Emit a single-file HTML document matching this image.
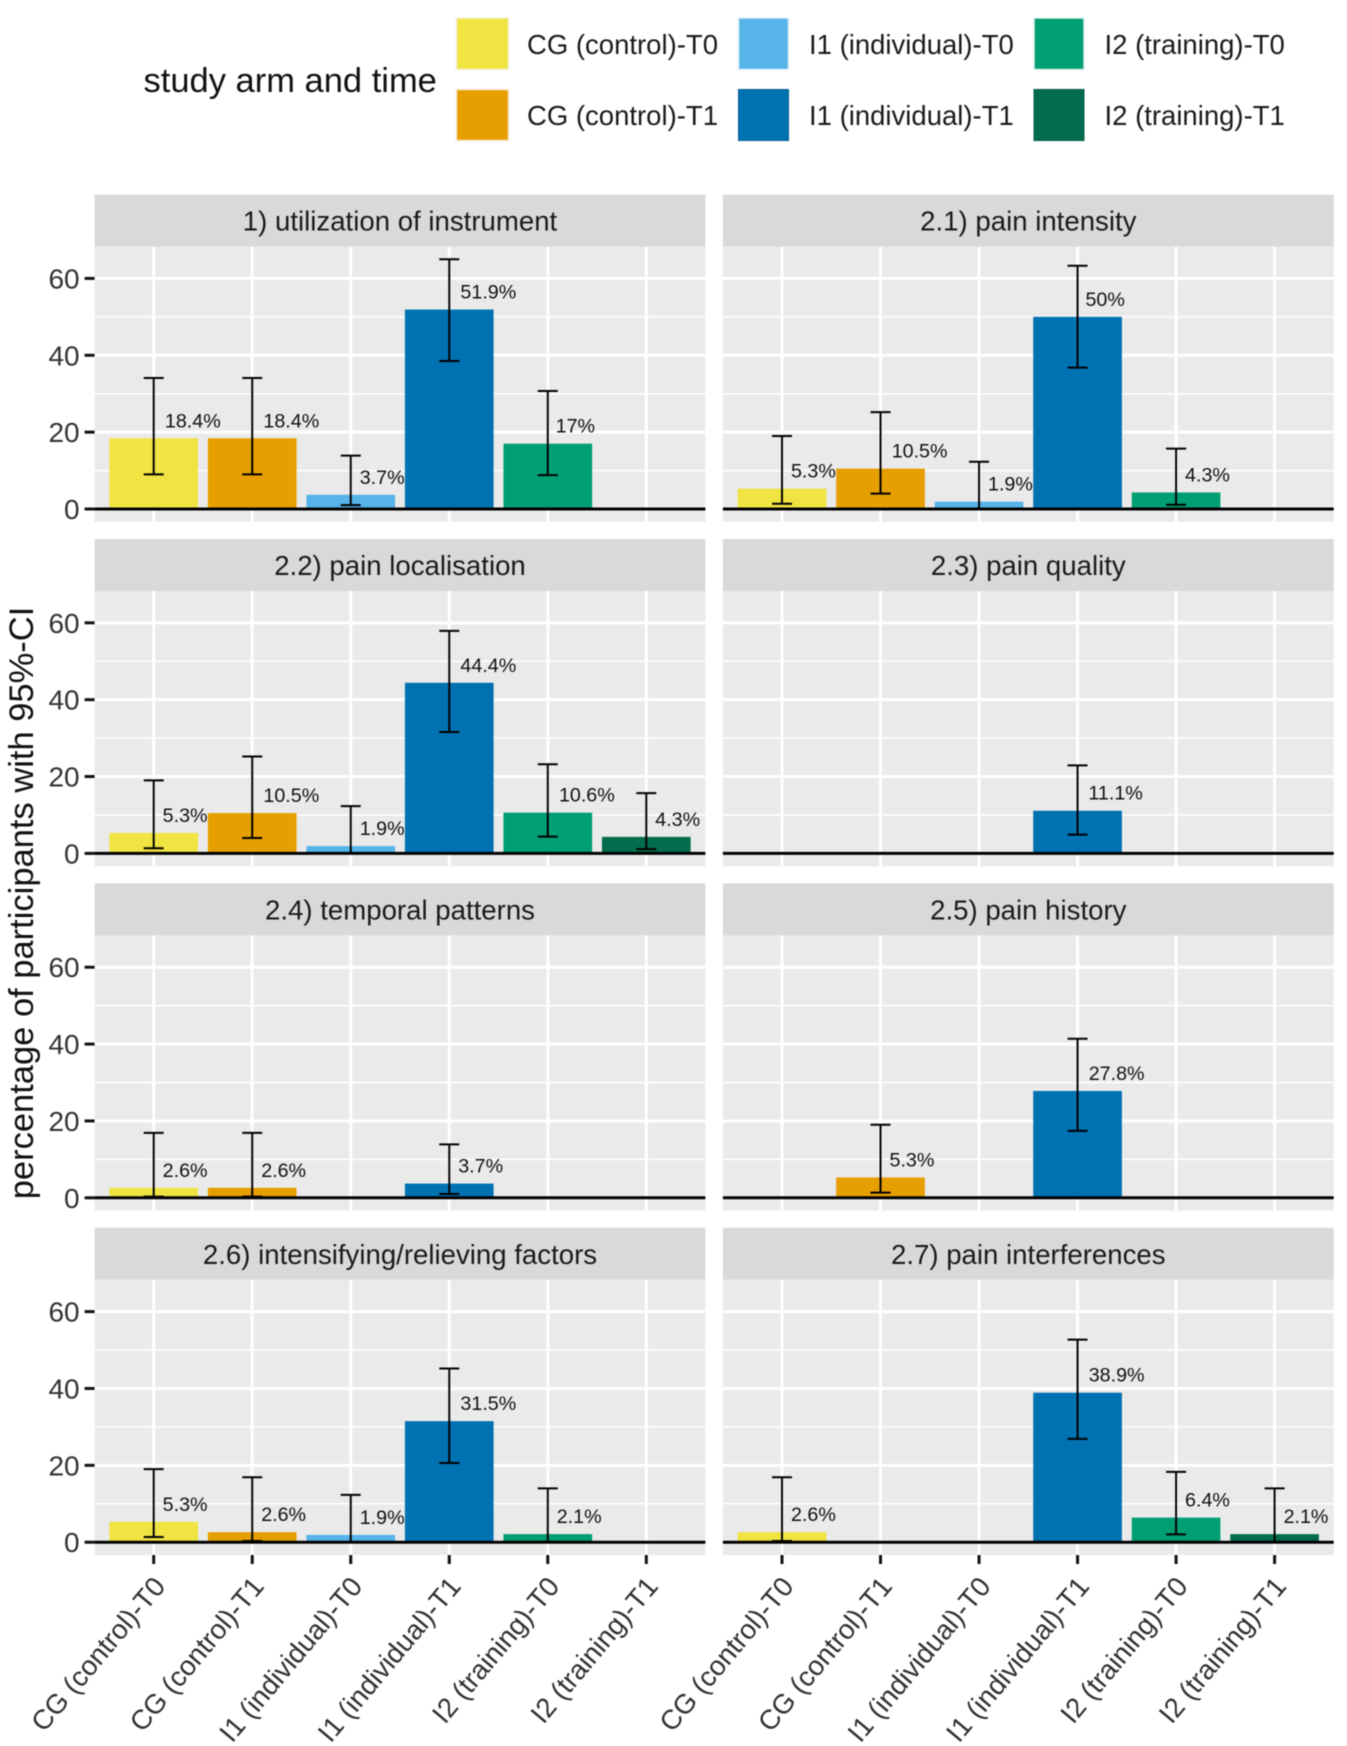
<!DOCTYPE html>
<html lang="en">
<head>
<meta charset="utf-8">
<title>Study arm and time faceted bar chart</title>
<style>
html,body{margin:0;padding:0;background:#fff;width:1347px;height:1746px;overflow:hidden}
svg{display:block;font-family:"Liberation Sans",Arial,sans-serif;filter:blur(0.4px)}
</style>
</head>
<body>
<svg id="chart" xmlns="http://www.w3.org/2000/svg" width="1347" height="1746" viewBox="0 0 1347 1746">
  <rect x="0" y="0" width="1347" height="1746" fill="#ffffff"/>
  <text transform="translate(33 903) rotate(-90)" text-anchor="middle" font-size="34.5" fill="#111111">percentage of participants with 95%-CI</text>
  <text x="143.5" y="92" font-size="34.5" fill="#111111">study arm and time</text>
  <g>
    <g>
      <rect x="456.5" y="18" width="52" height="51.5" fill="#F0E442" stroke="#f3f0d8" stroke-width="1.5"/>
      <text x="527" y="54" font-size="27.5" fill="#1a1a1a">CG (control)-T0</text>
    </g>
    <g>
      <rect x="456.5" y="89.5" width="52" height="51" fill="#E69F00" stroke="#f6e8cf" stroke-width="1.5"/>
      <text x="527" y="125" font-size="27.5" fill="#1a1a1a">CG (control)-T1</text>
    </g>
    <g>
      <rect x="738.5" y="18" width="50" height="51.5" fill="#56B4E9" stroke="#e2eff7" stroke-width="1.5"/>
      <text x="809" y="54" font-size="27.5" fill="#1a1a1a">I1 (individual)-T0</text>
    </g>
    <g>
      <rect x="738.5" y="89.5" width="50" height="51" fill="#0072B2" stroke="#0a5f92" stroke-width="1"/>
      <text x="809" y="125" font-size="27.5" fill="#1a1a1a">I1 (individual)-T1</text>
    </g>
    <g>
      <rect x="1034" y="18" width="50" height="51.5" fill="#009E73" stroke="#dcefe9" stroke-width="1.5"/>
      <text x="1104.5" y="54" font-size="27.5" fill="#1a1a1a">I2 (training)-T0</text>
    </g>
    <g>
      <rect x="1034" y="89.5" width="50" height="51" fill="#046C4E" stroke="#055a42" stroke-width="1"/>
      <text x="1104.5" y="125" font-size="27.5" fill="#1a1a1a">I2 (training)-T1</text>
    </g>
  </g>
  <g id="panels"></g>
</svg>
<script>
const facetTitles = ["1) utilization of instrument", "2.1) pain intensity", "2.2) pain localisation", "2.3) pain quality", "2.4) temporal patterns", "2.5) pain history", "2.6) intensifying/relieving factors", "2.7) pain interferences"];
const categories = ["CG (control)-T0", "CG (control)-T1", "I1 (individual)-T0", "I1 (individual)-T1", "I2 (training)-T0", "I2 (training)-T1"];
const yTicks = [0, 20, 40, 60];
const yMinorTicks = [10, 30, 50];
const percent = [
  [18.4, 18.4, 3.7, 51.9, 17, null],
  [5.3, 10.5, 1.9, 50, 4.3, null],
  [5.3, 10.5, 1.9, 44.4, 10.6, 4.3],
  [null, null, null, 11.1, null, null],
  [2.6, 2.6, null, 3.7, null, null],
  [null, 5.3, null, 27.8, null, null],
  [5.3, 2.6, 1.9, 31.5, 2.1, null],
  [2.6, null, null, 38.9, 6.4, 2.1]
];
const ciLow = [
  [9.0, 9.0, 1.0, 38.5, 8.8, null],
  [1.35, 4.0, 0.05, 36.8, 1.1, null],
  [1.35, 4.0, 0.05, 31.6, 4.35, 1.1],
  [null, null, null, 4.9, null, null],
  [0.3, 0.3, null, 1.0, null, null],
  [null, 1.35, null, 17.4, null, null],
  [1.35, 0.3, 0.05, 20.6, 0.1, null],
  [0.3, null, null, 26.9, 2.05, 0.1]
];
const ciHigh = [
  [34.1, 34.1, 13.9, 65, 30.7, null],
  [19, 25.2, 12.3, 63.3, 15.7, null],
  [19, 25.2, 12.3, 57.9, 23.2, 15.7],
  [null, null, null, 22.9, null, null],
  [16.9, 16.9, null, 13.9, null, null],
  [null, 19, null, 41.4, null, null],
  [19, 16.9, 12.3, 45.2, 14, null],
  [16.9, null, null, 52.7, 18.3, 14]
];
const barColors = ["#F0E442", "#E69F00", "#56B4E9", "#0072B2", "#009E73", "#046C4E"];

const NS = "http://www.w3.org/2000/svg";
const root = document.getElementById("panels");
const columnLefts = [94.6, 722.9];
const panelWidth = 610.8;
const rowPitch = 344.4;
const stripTop = 194.6;
const stripHeight = 52;
const panelHeight = 275.2;
const zeroOffset = 262.4;
const pxPerUnit = 3.843;
const catPad = 0.6;
const catStep = panelWidth / (categories.length - 1 + 2 * catPad);

function make(parent, tag, attrs, text) {
  const el = document.createElementNS(NS, tag);
  for (const k in attrs) el.setAttribute(k, attrs[k]);
  if (text !== undefined) el.textContent = text;
  parent.appendChild(el);
  return el;
}
function slug(s) {
  return s.toLowerCase().replace(/[^a-z0-9]+/g, "-").replace(/^-|-$/g, "");
}

facetTitles.forEach(function (title, f) {
  const col = f % 2;
  const row = Math.floor(f / 2);
  const left = columnLefts[col];
  const top = stripTop + row * rowPitch;
  const pTop = top + stripHeight;
  const zero = pTop + zeroOffset;
  const xScale = function (i) { return left + (catPad + i) * catStep; };
  const yScale = function (v) { return zero - v * pxPerUnit; };

  const g = make(root, "g", {});
  
  

  const strip = make(g, "rect", { x: left, y: top, width: panelWidth, height: stripHeight, fill: "#D9D9D9" });
  
  
  const stripLabel = make(g, "text", { x: left + panelWidth / 2, y: top + 36, "text-anchor": "middle", "font-size": 27.6, fill: "#1a1a1a" }, title);
  
  

  const bg = make(g, "rect", { x: left, y: pTop, width: panelWidth, height: panelHeight, fill: "#EAEAEA" });
  
  

  yMinorTicks.forEach(function (t) {
    const line = make(g, "line", { x1: left, x2: left + panelWidth, y1: yScale(t), y2: yScale(t), stroke: "#fff", "stroke-width": 1.5 });
    
    
  });
  yTicks.forEach(function (t) {
    const line = make(g, "line", { x1: left, x2: left + panelWidth, y1: yScale(t), y2: yScale(t), stroke: "#fff", "stroke-width": 3 });
    
    
  });
  categories.forEach(function (c, i) {
    const line = make(g, "line", { x1: xScale(i), x2: xScale(i), y1: pTop, y2: pTop + panelHeight, stroke: "#fff", "stroke-width": 3 });
    
    
  });

  if (col === 0) {
    yTicks.forEach(function (t) {
      const tick = make(g, "line", { x1: left - 10, x2: left, y1: yScale(t), y2: yScale(t), stroke: "#111", "stroke-width": 3 });
      
      
      const lab = make(g, "text", { x: left - 15, y: yScale(t) + 10, "text-anchor": "end", "font-size": 28, fill: "#333333" }, String(t));
      
      
    });
  }

  categories.forEach(function (c, i) {
    const v = percent[f][i];
    if (v === null) return;
    const xc = xScale(i);
    const w = catStep * 0.9;
    const bar = make(g, "rect", { x: xc - w / 2, y: yScale(v), width: w, height: zero - yScale(v), fill: barColors[i] });
    
    
  });

  const zeroLine = make(g, "line", { x1: left, x2: left + panelWidth, y1: zero, y2: zero, stroke: "#000", "stroke-width": 3 });
  
  

  categories.forEach(function (c, i) {
    const v = percent[f][i];
    if (v === null) return;
    const xc = xScale(i);
    const lo = yScale(ciLow[f][i]);
    const hi = yScale(ciHigh[f][i]);
    const eb = make(g, "path", {
      d: "M" + (xc - 10) + " " + hi + "H" + (xc + 10) + "M" + xc + " " + hi + "V" + lo + "M" + (xc - 10) + " " + lo + "H" + (xc + 10),
      fill: "none", stroke: "#000", "stroke-width": 2
    });
    
    
    const lab = make(g, "text", { x: xc + 10, y: yScale(v) - 11, "font-size": 19.7, fill: "#111" }, v + "%");
    
    
    lab.setAttribute("x", xc + 0.2 * lab.getComputedTextLength());
  });

  if (row === 3) {
    const axisBottom = pTop + panelHeight;
    categories.forEach(function (c, i) {
      const xc = xScale(i);
      const tick = make(g, "line", { x1: xc, x2: xc, y1: axisBottom, y2: axisBottom + 9, stroke: "#111", "stroke-width": 3 });
      
      
      const ax = xc + 13;
      const ay = axisBottom + 32;
      const lab = make(g, "text", { x: ax, y: ay, "text-anchor": "end", "font-size": 27.5, fill: "#303030", transform: "rotate(-50 " + ax + " " + ay + ")" }, c);
      
      
    });
  }
});
</script>
</body>
</html>
